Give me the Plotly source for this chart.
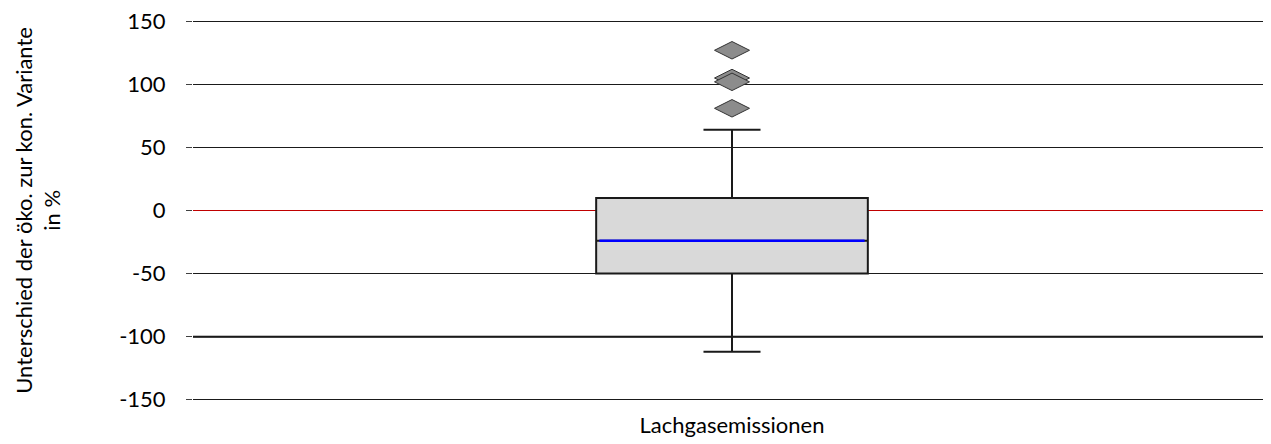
import plotly.graph_objects as go

# Kennwerte des Boxplots
category = ["Lachgasemissionen"]
q1 = [-50]
median = [-24]
q3 = [10]
lower_whisker = [-112]
upper_whisker = [64]
outliers = [127, 105, 102, 81]

y_ticks = [-150, -100, -50, 0, 50, 100, 150]

box_width = 0.252

fig = go.Figure()

fig.add_trace(go.Box(
    x=[0],
    q1=q1, median=median, q3=q3,
    lowerfence=lower_whisker, upperfence=upper_whisker,
    width=box_width,
    whiskerwidth=0.21,
    fillcolor="#d9d9d9",
    line=dict(color="#1a1a1a", width=2),
    boxpoints=False,
    showlegend=False,
    hoverinfo="skip",
))

# blue median line drawn over the box
fig.add_trace(go.Scatter(
    x=[-box_width / 2 + 0.003, box_width / 2 - 0.003],
    y=[median[0], median[0]],
    mode="lines",
    line=dict(color="#0000ff", width=2.5),
    showlegend=False,
    hoverinfo="skip",
))

# outliers
fig.add_trace(go.Scatter(
    x=[0] * len(outliers),
    y=outliers,
    mode="markers",
    marker=dict(symbol="diamond-wide", size=25, color="#8c8c8c",
                line=dict(color="#333333", width=1)),
    showlegend=False,
    hoverinfo="skip",
))

# thick reference line at -100
fig.add_shape(type="line", xref="paper", x0=0, x1=1, y0=-100, y1=-100,
              line=dict(color="black", width=2), layer="below")

fig.add_annotation(
    text="Unterschied der öko. zur kon. Variante<br>in %",
    xref="paper", yref="paper", x=-0.1445, y=0.5,
    xanchor="center", yanchor="middle", textangle=-90,
    showarrow=False, font=dict(size=22),
)

fig.update_layout(
    width=1263, height=436,
    margin=dict(l=185, r=0, t=12, b=43),
    paper_bgcolor="white",
    plot_bgcolor="white",
    font=dict(family="Lato, Open Sans, sans-serif", size=22, color="black"),
    xaxis=dict(
        range=[-0.5, 0.5],
        tickvals=[0], ticktext=category,
        showgrid=False, zeroline=False, showline=False,
        ticks="", ticklabelstandoff=9,
    ),
    yaxis=dict(
        range=[-151, 151],
        tickvals=y_ticks, ticktext=[str(v) for v in y_ticks],
        showgrid=True, gridcolor="#1a1a1a", gridwidth=1,
        zeroline=True, zerolinecolor="#c00000", zerolinewidth=1,
        showline=False, automargin=False,
        ticks="outside", ticklen=6, tickcolor="#404040",
        ticklabelstandoff=16, ticklabeloverflow="allow",
    ),
)

fig.write_html("out.html")
